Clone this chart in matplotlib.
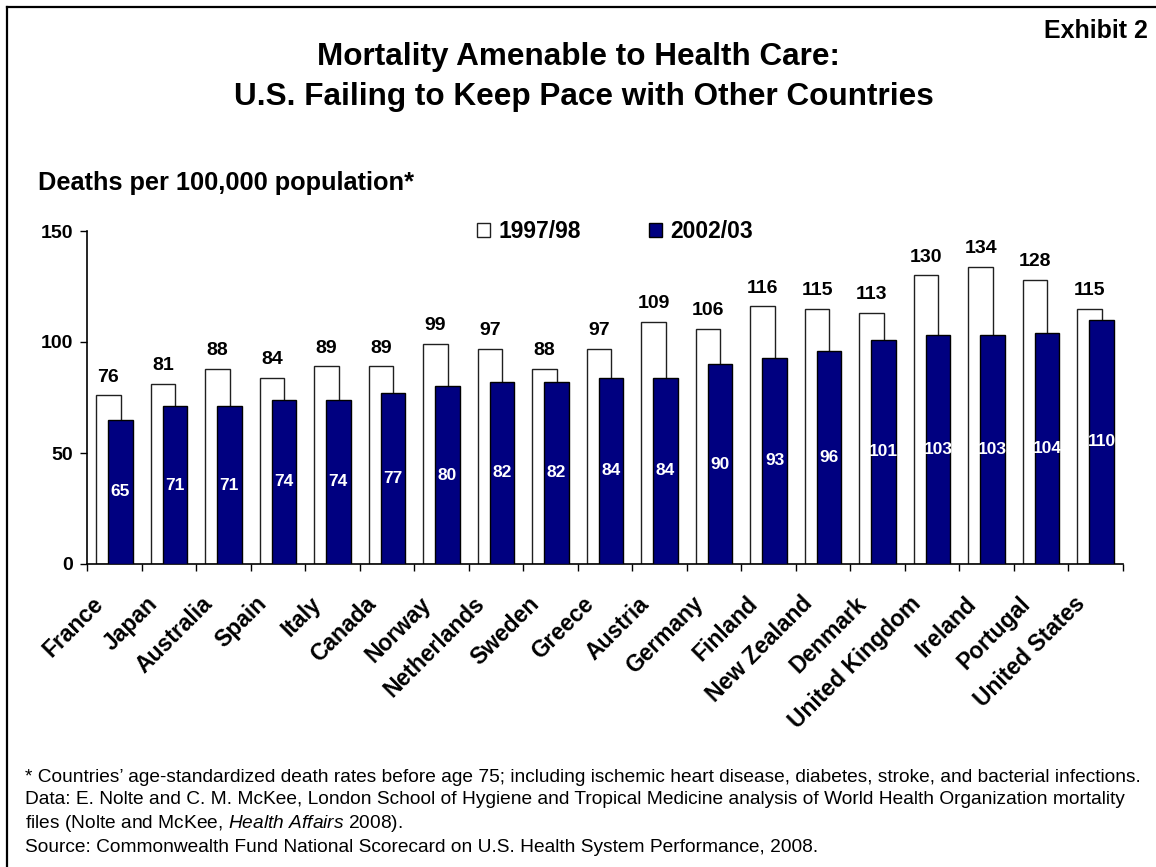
import matplotlib
matplotlib.use("Agg")
import matplotlib.pyplot as plt
from matplotlib.lines import Line2D
import numpy as np

countries = ["France", "Japan", "Australia", "Spain", "Italy", "Canada", "Norway",
             "Netherlands", "Sweden", "Greece", "Austria", "Germany", "Finland",
             "New Zealand", "Denmark", "United Kingdom", "Ireland", "Portugal",
             "United States"]
rate_1997 = [76, 81, 88, 84, 89, 89, 99, 97, 88, 97, 109, 106, 116, 115, 113, 130, 134, 128, 115]
rate_2002 = [65, 71, 71, 74, 74, 77, 80, 82, 82, 84, 84, 90, 93, 96, 101, 103, 103, 104, 110]
series_names = ["1997/98", "2002/03"]
yticks = [0, 50, 100, 150]

title_lines = ["Mortality Amenable to Health Care:",
               "U.S. Failing to Keep Pace with Other Countries"]
notes = ["* Countries\u2019 age-standardized death rates before age 75; including ischemic heart disease, diabetes, stroke, and bacterial infections.",
         "Data: E. Nolte and C. M. McKee, London School of Hygiene and Tropical Medicine analysis of World Health Organization mortality",
         r"files (Nolte and McKee, $\mathit{Health\ Affairs}$ 2008).",
         "Source: Commonwealth Fund National Scorecard on U.S. Health System Performance, 2008."]

plt.rcParams["font.family"] = ["Liberation Sans", "DejaVu Sans"]
plt.rcParams["mathtext.fontset"] = "custom"
plt.rcParams["mathtext.rm"] = "Liberation Sans"
plt.rcParams["mathtext.it"] = "Liberation Sans:italic"

W, H = 1156, 867
NAVY = "#000080"

fig = plt.figure(figsize=(W / 100, H / 100), dpi=100)
ax = fig.add_axes([87 / W, 1 - 564 / H, (1123 - 87) / W, (564 - 231) / H])

x = np.arange(len(countries))
w = 0.45
off = 0.11
b1 = ax.bar(x - off, rate_1997, w, color="white", edgecolor="#202020", linewidth=1.0, zorder=2)
b2 = ax.bar(x + off, rate_2002, w, color=NAVY, edgecolor="black", linewidth=1.0, zorder=3)

for xi, v in zip(x, rate_1997):
    ax.annotate(str(v), (xi - off, v), xytext=(0, 7), textcoords="offset points",
                ha="center", va="bottom", fontsize=14, fontweight="bold")
for xi, v in zip(x, rate_2002):
    ax.text(xi + off, v / 2, str(v), color="white", ha="center", va="center",
            fontsize=12.5, fontweight="bold", zorder=4)

# category names, rotated like the slide
for xi, name in zip(x, countries):
    ax.annotate(name, (xi, 0), xycoords=("data", "axes fraction"),
                xytext=(-7, -29.5), textcoords="offset points",
                rotation=45, rotation_mode="anchor", ha="right", va="baseline",
                fontsize=16.5, fontweight="bold", annotation_clip=False)

ax.set_xlim(-0.5, len(countries) - 0.5)
ax.set_ylim(0, 150)
ax.set_xticks(np.arange(-0.5, len(countries), 1.0))
ax.set_xticklabels([])
ax.set_yticks(yticks)
ax.set_yticklabels([str(t) for t in yticks], fontsize=14, fontweight="bold")
ax.tick_params(axis="both", direction="out", length=5, width=1, color="black")
ax.tick_params(axis="y", pad=5)
for s in ["top", "right"]:
    ax.spines[s].set_visible(False)
for s in ["left", "bottom"]:
    ax.spines[s].set_linewidth(1.2)

fig.legend(handles=[b1, b2], labels=series_names, loc="center",
           bbox_to_anchor=(615 / W, 1 - 232 / H), ncol=2, frameon=False,
           prop=dict(weight="bold", size=16.5), handlelength=0.55, handleheight=0.55,
           handletextpad=0.35, columnspacing=3.0)

fig.text(578 / W, 1 - 57 / H, title_lines[0], ha="center", va="center",
         fontsize=22.7, fontweight="bold")
fig.text(584 / W, 1 - 97 / H, title_lines[1], ha="center", va="center",
         fontsize=22.7, fontweight="bold")
fig.text(1148 / W, 1 - 31 / H, "Exhibit 2", ha="right", va="center",
         fontsize=18, fontweight="bold")
fig.text(38 / W, 1 - 183 / H, "Deaths per 100,000 population*", ha="left", va="center",
         fontsize=18.3, fontweight="bold")

for yy, line in zip([777, 800, 823, 847], notes):
    fig.text(25 / W, 1 - yy / H, line, ha="left", va="center", fontsize=13.8)

# slide frame
fig.add_artist(Line2D([7 / W, 7 / W], [0, 1 - 7 / H], transform=fig.transFigure,
                      color="black", lw=1.6))
fig.add_artist(Line2D([7 / W, 1], [1 - 7 / H, 1 - 7 / H], transform=fig.transFigure,
                      color="black", lw=1.6))

fig.savefig("out.png", dpi=100)
